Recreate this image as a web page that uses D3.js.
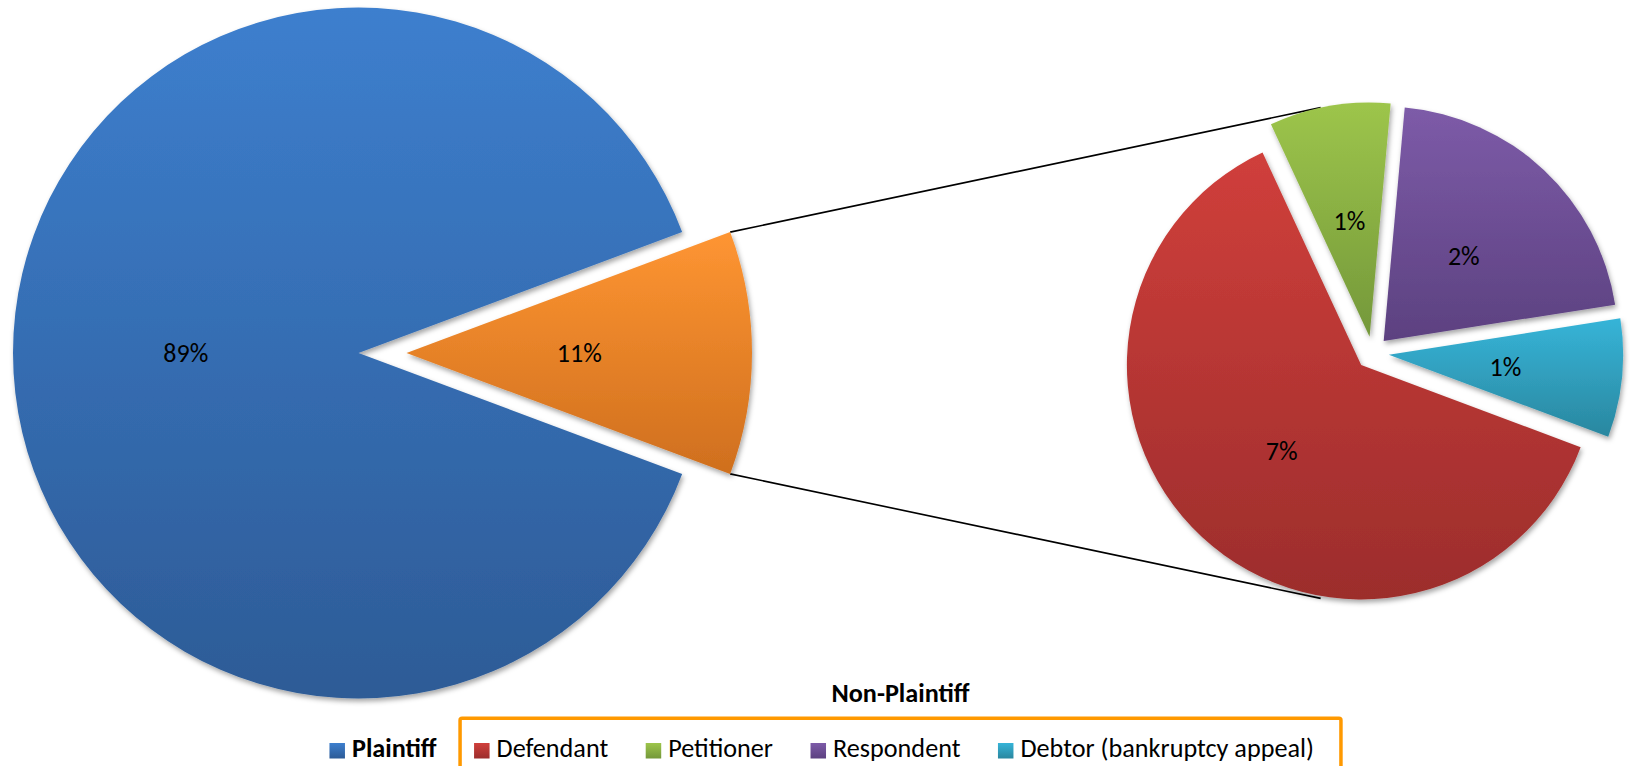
<!DOCTYPE html>
<html>
<head>
<meta charset="utf-8">
<script src="https://cdn.jsdelivr.net/npm/d3@7"></script>
<style>
  body { margin: 0; background: #fff; }
  svg { display: block; }
  text { font-family: Carlito, Lato, "Open Sans", sans-serif; fill: #000; }
</style>
</head>
<body>
<svg id="chart" width="1630" height="766"></svg>
<script>
// ---------- data ----------
const mainCategories = ["Plaintiff", "Non-Plaintiff"];
const mainValues = [88.62, 11.38];
const subCategories = ["Defendant", "Petitioner", "Respondent", "Debtor (bankruptcy appeal)"];
const subValues = [7.10, 0.95, 2.40, 0.93];
const legendTitle = "Non-Plaintiff";

// ---------- styles ----------
const allCats = mainCategories.concat(subCategories);
const topColors = ["#3d7fce", "#fe9532", "#d03f3b", "#9dc54b", "#7d5ba8", "#36b4d8"];
const bottomColors = ["#2d5b96", "#cf6f1e", "#9c2d2c", "#74983a", "#5c4180", "#2a879f"];
const topScale = d3.scaleOrdinal(allCats, topColors);
const bottomScale = d3.scaleOrdinal(allCats, bottomColors);
const fill = c => `url(#grad${allCats.indexOf(c)})`;

const LABEL_SIZE = 26;
const LEGEND_SIZE = 26.2;

// ---------- layout ----------
const mainPie = { cx: 358.5, cy: 353, r: 345.5, explode: 48 };
const subPie = { cx: 1372.4, cy: 353, r: 234.3, explode: 16.5, startDeg: 110.5 };

const svg = d3.select("#chart");
const defs = svg.append("defs");

allCats.forEach((c, i) => {
  const g = defs.append("linearGradient").attr("id", "grad" + i)
    .attr("x1", 0).attr("y1", 0).attr("x2", 0).attr("y2", 1);
  g.append("stop").attr("offset", 0).attr("stop-color", topScale(c));
  g.append("stop").attr("offset", 1).attr("stop-color", bottomScale(c));
});

const filt = defs.append("filter").attr("id", "shadow")
  .attr("x", "-10%").attr("y", "-10%").attr("width", "125%").attr("height", "125%");
filt.append("feDropShadow").attr("dx", 1.5).attr("dy", 3).attr("stdDeviation", 2.5)
  .attr("flood-color", "#000").attr("flood-opacity", 0.35);

// main pie: "other" slice centred pointing right
const mainTotal = d3.sum(mainValues);
const otherAngle = 2 * Math.PI * mainValues[1] / mainTotal;
const a0 = Math.PI / 2 + otherAngle / 2;
const pie1 = d3.pie().sort(null).startAngle(a0).endAngle(a0 + 2 * Math.PI);
const arcs1 = pie1(mainValues).map((d, i) => {
  const mid = (d.startAngle + d.endAngle) / 2;
  const e = i === 1 ? mainPie.explode : 0;
  return Object.assign(d, { cat: mainCategories[i], ox: e * Math.sin(mid), oy: -e * Math.cos(mid) });
});

// secondary pie
const s0 = subPie.startDeg * Math.PI / 180;
const pie2 = d3.pie().sort(null).startAngle(s0).endAngle(s0 + 2 * Math.PI);
const arcs2 = pie2(subValues).map((d, i) => {
  const mid = (d.startAngle + d.endAngle) / 2;
  const e = subPie.explode;
  return Object.assign(d, { cat: subCategories[i], ox: e * Math.sin(mid), oy: -e * Math.cos(mid) });
});

const arcMain = d3.arc().innerRadius(0).outerRadius(mainPie.r);
const arcSub = d3.arc().innerRadius(0).outerRadius(subPie.r);

// ---------- connector lines (tangent from split slice corners) ----------
const other = arcs1[1];
function corner(a) {
  return [mainPie.cx + other.ox + mainPie.r * Math.sin(a), mainPie.cy + other.oy - mainPie.r * Math.cos(a)];
}
function tangent(P, sign) {
  const R = subPie.r + subPie.explode;
  const vx = P[0] - subPie.cx, vy = P[1] - subPie.cy;
  const D = Math.hypot(vx, vy);
  const phi = Math.atan2(vy, vx);
  const alpha = Math.acos(R / D);
  const t = phi + sign * alpha;
  return [subPie.cx + R * Math.cos(t), subPie.cy + R * Math.sin(t)];
}
const upper = corner(other.startAngle);
const lower = corner(other.endAngle);
const connectors = [[upper, tangent(upper, 1)], [lower, tangent(lower, -1)]];
svg.append("g").selectAll("line").data(connectors).join("line")
  .attr("x1", d => d[0][0]).attr("y1", d => d[0][1])
  .attr("x2", d => d[1][0]).attr("y2", d => d[1][1])
  .attr("stroke", "#000").attr("stroke-width", 1.6);

// ---------- pies ----------
const g1 = svg.append("g").attr("transform", `translate(${mainPie.cx},${mainPie.cy})`);
g1.selectAll("path").data(arcs1).join("path")
  .attr("transform", d => `translate(${d.ox},${d.oy})`)
  .attr("d", arcMain)
  .attr("fill", d => fill(d.cat))
  .attr("filter", "url(#shadow)");

const g2 = svg.append("g").attr("transform", `translate(${subPie.cx},${subPie.cy})`);
g2.selectAll("path").data(arcs2).join("path")
  .attr("transform", d => `translate(${d.ox},${d.oy})`)
  .attr("d", arcSub)
  .attr("fill", d => fill(d.cat))
  .attr("filter", "url(#shadow)");

const pct = v => Math.round(v) + "%";

g1.selectAll("text").data(arcs1).join("text")
  .attr("transform", d => { const c = arcMain.centroid(d); return `translate(${c[0] + d.ox},${c[1] + d.oy})`; })
  .attr("text-anchor", "middle").attr("dy", "0.35em")
  .style("font-size", LABEL_SIZE + "px")
  .text(d => pct(100 * d.value / mainTotal));

g2.selectAll("text").data(arcs2).join("text")
  .attr("transform", d => { const c = arcSub.centroid(d); return `translate(${c[0] + d.ox},${c[1] + d.oy})`; })
  .attr("text-anchor", "middle").attr("dy", "0.35em")
  .style("font-size", LABEL_SIZE + "px")
  .text(d => pct(d.value));

// ---------- legend ----------
const legendItems = [mainCategories[0]].concat(subCategories);
const SW = 15.5, GAP_SW = 7, GAP_ITEM = 37.5;
const legendCenterX = 821.7, legendBaseline = 757, swatchTop = 743;

const lg = svg.append("g");
const items = lg.selectAll("g.item").data(legendItems).join("g").attr("class", "item");
items.append("rect").attr("width", SW).attr("height", SW).attr("y", swatchTop)
  .attr("fill", d => fill(d));
items.append("text").attr("y", legendBaseline)
  .style("font-size", LEGEND_SIZE + "px")
  .style("font-weight", (d, i) => i === 0 ? "bold" : "normal")
  .text(d => d);

const widths = [];
items.each(function () { widths.push(d3.select(this).select("text").node().getComputedTextLength()); });
const total = d3.sum(widths) + legendItems.length * (SW + GAP_SW) + GAP_ITEM * (legendItems.length - 1);
let x = legendCenterX - total / 2;
const xs = [];
widths.forEach(w => { xs.push(x); x += SW + GAP_SW + w + GAP_ITEM; });
items.each(function (d, i) {
  const it = d3.select(this);
  it.select("rect").attr("x", xs[i]);
  it.select("text").attr("x", xs[i] + SW + GAP_SW);
});

const boxLeft = xs[1] - 14;
const last = legendItems.length - 1;
const boxRight = xs[last] + SW + GAP_SW + widths[last] + 27;
lg.insert("rect", ":first-child")
  .attr("x", boxLeft).attr("y", 718.3)
  .attr("width", boxRight - boxLeft).attr("height", 80)
  .attr("rx", 2)
  .attr("fill", "none").attr("stroke", "#ff9900").attr("stroke-width", 3.5);

lg.append("text")
  .attr("x", (boxLeft + boxRight) / 2).attr("y", 702)
  .attr("text-anchor", "middle")
  .style("font-size", LEGEND_SIZE + "px").style("font-weight", "bold")
  .text(legendTitle);
</script>
</body>
</html>
